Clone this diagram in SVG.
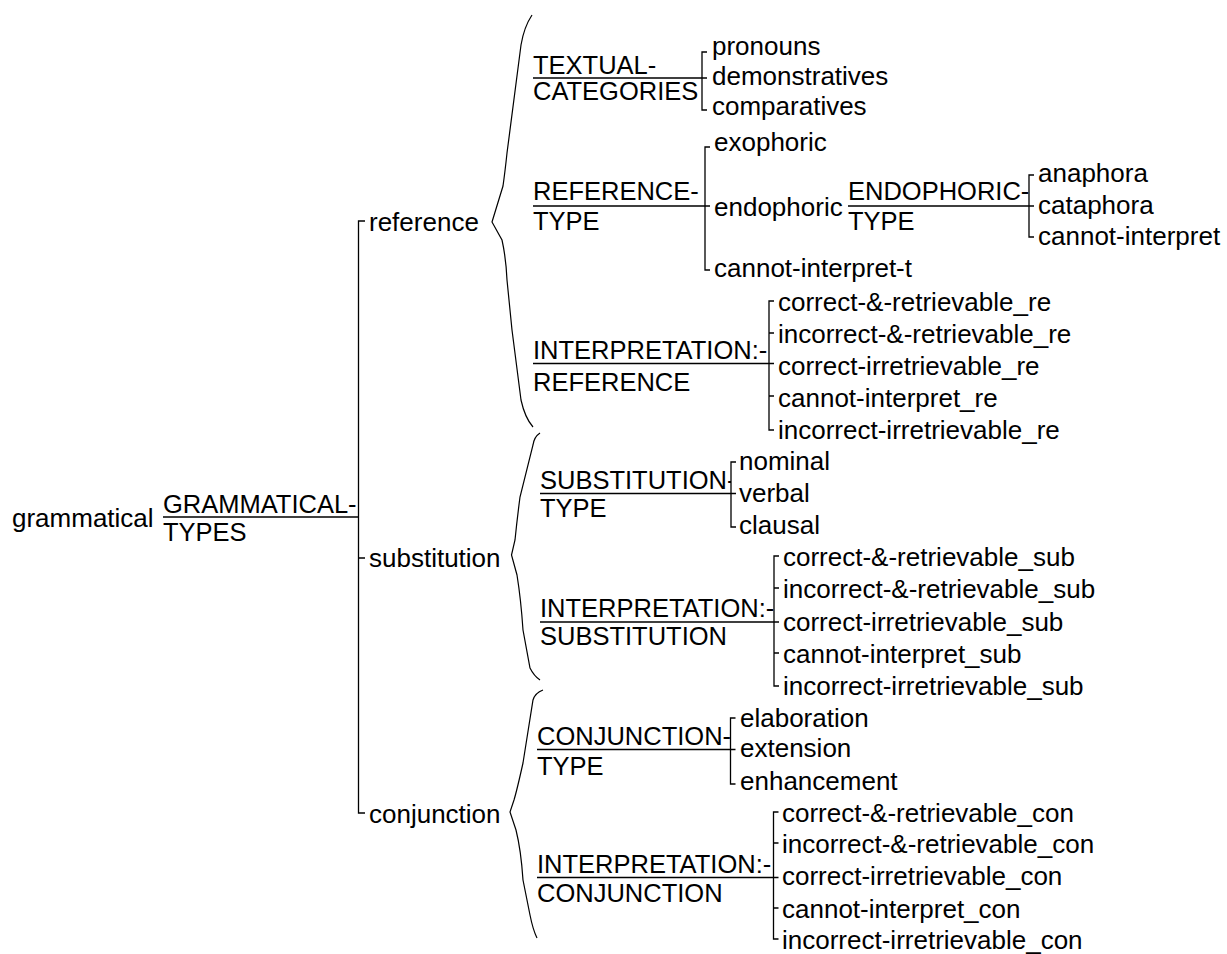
<svg xmlns="http://www.w3.org/2000/svg" width="1227" height="954" viewBox="0 0 1227 954">
<style>
text{font-family:"Liberation Sans",Arial,sans-serif;font-size:26px;fill:#000}
text.c{font-size:25.5px}
.ln{stroke:#000;stroke-width:1.3;fill:none}
.br{stroke:#000;stroke-width:1.2;fill:none}
</style>
<defs>
<clipPath id="cG"><rect x="0" y="470" width="358" height="60"/></clipPath>
<clipPath id="cRT"><rect x="500" y="160" width="705" height="60"/></clipPath>
<clipPath id="cET"><rect x="800" y="160" width="229" height="60"/></clipPath>
<clipPath id="cST"><rect x="500" y="450" width="231" height="60"/></clipPath>
<clipPath id="cCT"><rect x="500" y="700" width="230.5" height="60"/></clipPath>
<clipPath id="cIR"><rect x="500" y="320" width="269" height="60"/></clipPath>
<clipPath id="cIS"><rect x="500" y="580" width="274" height="60"/></clipPath>
<clipPath id="cIC"><rect x="500" y="830" width="273.5" height="60"/></clipPath>
</defs>
<rect width="1227" height="954" fill="#fff"/>

<g id="connectors">
<path class="ln" d="M163,517H358.5M365,221H358.5V813H365M358.5,558H365"/>
<path class="br" d="M532,15Q524,27 521,45L507,153Q505,172 503,186L492,222L502,240Q506,258 507,280L512,330L521,400Q525,418 533,427"/>
<path class="br" d="M540,433Q534,437 533,445L520,497Q517,520 515,540L511.5,555L517,575Q521,600 523,630L530,668Q534,676 540,680"/>
<path class="br" d="M543,690Q535,693 533,700L523,763Q517,790 514,800L510,812L516,830Q521,850 523,880L530,915Q533,930 537,938"/>
<path class="ln" d="M533,78H707M707,52H702V110H707"/>
<path class="ln" d="M533,206H710M710,147H705V270H710"/>
<path class="ln" d="M848,206H1034M1034,175H1029V237H1034"/>
<path class="ln" d="M533,363.5H774M774,301H769V430H774M769,333H774M769,396H774"/>
<path class="ln" d="M540,493.5H736M736,462H731V527H736"/>
<path class="ln" d="M540,622H779M779,556H774V686H779M774,588H779M774,653H779"/>
<path class="ln" d="M537,749.5H735.5M735.5,718H730.5V784H735.5"/>
<path class="ln" d="M537,877.5H778.5M778.5,812H773.5V939H778.5M773.5,843H778.5M773.5,908H778.5"/>
</g>

<g id="n-grammatical"><text x="12" y="527">grammatical</text></g>
<g id="n-grammatical-types"><text class="c" x="163" y="512.5" clip-path="url(#cG)">GRAMMATICAL-</text><text class="c" x="163" y="541">TYPES</text></g>

<g id="n-reference"><text x="369" y="231">reference</text></g>
<g id="n-substitution"><text x="369" y="567">substitution</text></g>
<g id="n-conjunction"><text x="369" y="823">conjunction</text></g>

<g id="n-textual-categories"><text class="c" x="533" y="74">TEXTUAL-</text><text class="c" x="533" y="100">CATEGORIES</text></g>
<g id="n-pronouns"><text x="712" y="55">pronouns</text></g>
<g id="n-demonstratives"><text x="712" y="85">demonstratives</text></g>
<g id="n-comparatives"><text x="712" y="115">comparatives</text></g>

<g id="n-reference-type"><text class="c" x="533" y="200" clip-path="url(#cRT)">REFERENCE-</text><text class="c" x="533" y="230">TYPE</text></g>
<g id="n-exophoric"><text x="714" y="151">exophoric</text></g>
<g id="n-endophoric"><text x="714" y="216">endophoric</text></g>
<g id="n-cannot-interpret-t"><text x="714" y="277">cannot-interpret-t</text></g>

<g id="n-endophoric-type"><text class="c" x="848" y="200" clip-path="url(#cET)">ENDOPHORIC-</text><text class="c" x="848" y="230">TYPE</text></g>
<g id="n-anaphora"><text x="1038" y="182">anaphora</text></g>
<g id="n-cataphora"><text x="1038" y="214">cataphora</text></g>
<g id="n-cannot-interpret"><text x="1038" y="245">cannot-interpret</text></g>

<g id="n-interpretation-reference"><text class="c" x="533" y="359" clip-path="url(#cIR)">INTERPRETATION:-</text><text class="c" x="533" y="391">REFERENCE</text></g>
<g id="n-re1"><text x="778" y="311">correct-&amp;-retrievable_re</text></g>
<g id="n-re2"><text x="778" y="343">incorrect-&amp;-retrievable_re</text></g>
<g id="n-re3"><text x="778" y="375">correct-irretrievable_re</text></g>
<g id="n-re4"><text x="778" y="407">cannot-interpret_re</text></g>
<g id="n-re5"><text x="778" y="439">incorrect-irretrievable_re</text></g>

<g id="n-substitution-type"><text class="c" x="540" y="489" clip-path="url(#cST)">SUBSTITUTION-</text><text class="c" x="540" y="517">TYPE</text></g>
<g id="n-nominal"><text x="739" y="470">nominal</text></g>
<g id="n-verbal"><text x="739" y="502">verbal</text></g>
<g id="n-clausal"><text x="739" y="534">clausal</text></g>

<g id="n-interpretation-substitution"><text class="c" x="540" y="617" clip-path="url(#cIS)">INTERPRETATION:-</text><text class="c" x="540" y="645">SUBSTITUTION</text></g>
<g id="n-sub1"><text x="783" y="566">correct-&amp;-retrievable_sub</text></g>
<g id="n-sub2"><text x="783" y="598">incorrect-&amp;-retrievable_sub</text></g>
<g id="n-sub3"><text x="783" y="631">correct-irretrievable_sub</text></g>
<g id="n-sub4"><text x="783" y="663">cannot-interpret_sub</text></g>
<g id="n-sub5"><text x="783" y="695">incorrect-irretrievable_sub</text></g>

<g id="n-conjunction-type"><text class="c" x="537" y="745" clip-path="url(#cCT)">CONJUNCTION-</text><text class="c" x="537" y="775">TYPE</text></g>
<g id="n-elaboration"><text x="740" y="727">elaboration</text></g>
<g id="n-extension"><text x="740" y="757">extension</text></g>
<g id="n-enhancement"><text x="740" y="790">enhancement</text></g>

<g id="n-interpretation-conjunction"><text class="c" x="537" y="873" clip-path="url(#cIC)">INTERPRETATION:-</text><text class="c" x="537" y="902">CONJUNCTION</text></g>
<g id="n-con1"><text x="782" y="822">correct-&amp;-retrievable_con</text></g>
<g id="n-con2"><text x="782" y="853">incorrect-&amp;-retrievable_con</text></g>
<g id="n-con3"><text x="782" y="885">correct-irretrievable_con</text></g>
<g id="n-con4"><text x="782" y="918">cannot-interpret_con</text></g>
<g id="n-con5"><text x="782" y="949">incorrect-irretrievable_con</text></g>
</svg>
